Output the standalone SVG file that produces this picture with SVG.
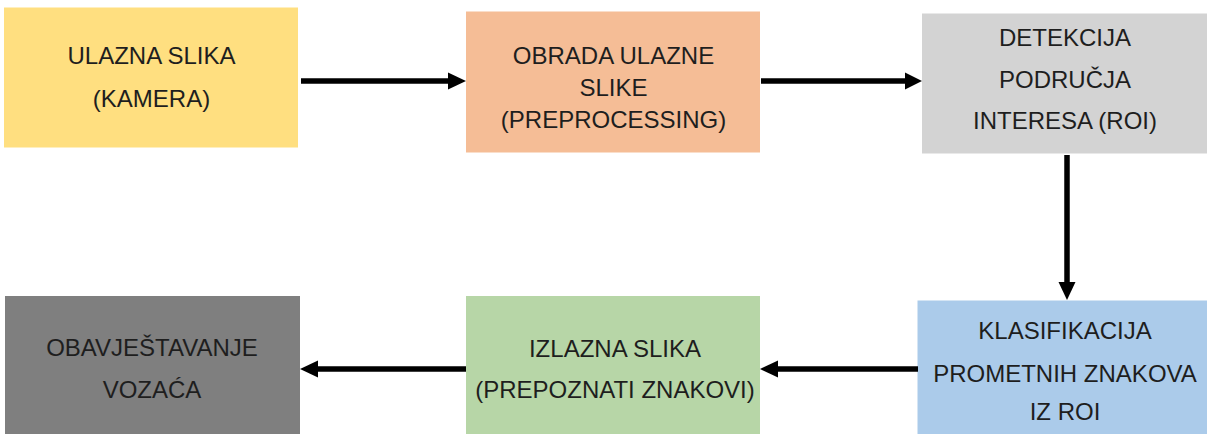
<svg xmlns="http://www.w3.org/2000/svg" width="1207" height="434" viewBox="0 0 1207 434">
<style>
text { font-family: "Liberation Sans", Arial, sans-serif; font-size: 24px; fill: #1e1e1e; text-anchor: middle; }
.conn line { stroke: #000; stroke-width: 5.5; }
.conn polygon { fill: #000; }
</style>
<rect width="1207" height="434" fill="#ffffff"/>
<g id="node-ulazna">
<rect x="4" y="7.5" width="294" height="140" fill="#FFDF80"/>
<text x="151.5" y="64">ULAZNA SLIKA</text>
<text x="151.5" y="107">(KAMERA)</text>
</g>
<g id="node-obrada">
<rect x="466" y="11.5" width="294" height="141" fill="#F5BD96"/>
<text x="613.5" y="63.5">OBRADA ULAZNE</text>
<text x="613.5" y="96">SLIKE</text>
<text x="613.5" y="128">(PREPROCESSING)</text>
</g>
<g id="node-detekcija">
<rect x="922" y="13.5" width="285" height="140" fill="#D3D3D3"/>
<text x="1065" y="46">DETEKCIJA</text>
<text x="1065" y="88">PODRUČJA</text>
<text x="1065" y="128.5">INTERESA (ROI)</text>
</g>
<g id="node-klasifikacija">
<rect x="917.5" y="300.5" width="289.5" height="134" fill="#ABCBEA"/>
<text x="1065" y="338.5">KLASIFIKACIJA</text>
<text x="1065" y="381.5">PROMETNIH ZNAKOVA</text>
<text x="1065" y="420">IZ ROI</text>
</g>
<g id="node-izlazna">
<rect x="466" y="296" width="294" height="138" fill="#B7D6A7"/>
<text x="615" y="356.5">IZLAZNA SLIKA</text>
<text x="615" y="398">(PREPOZNATI ZNAKOVI)</text>
</g>
<g id="node-obavjestavanje">
<rect x="5" y="296" width="295" height="138" fill="#7F7F7F"/>
<text x="152" y="356">OBAVJEŠTAVANJE</text>
<text x="152" y="398">VOZAĆA</text>
</g>
<g id="connectors" class="conn">
<line x1="301" y1="81" x2="450" y2="81"/>
<polygon points="448,72.5 466,81 448,89.5"/>
<line x1="761" y1="81" x2="907" y2="81"/>
<polygon points="905,72.5 922,81 905,89.5"/>
<line x1="1067" y1="155" x2="1067" y2="284"/>
<polygon points="1058.5,282 1067,300 1075.5,282"/>
<line x1="918" y1="369" x2="776" y2="369"/>
<polygon points="778,360.5 760,369 778,377.5"/>
<line x1="466" y1="369" x2="316" y2="369"/>
<polygon points="318,360.5 300,369 318,377.5"/>
</g>
</svg>
